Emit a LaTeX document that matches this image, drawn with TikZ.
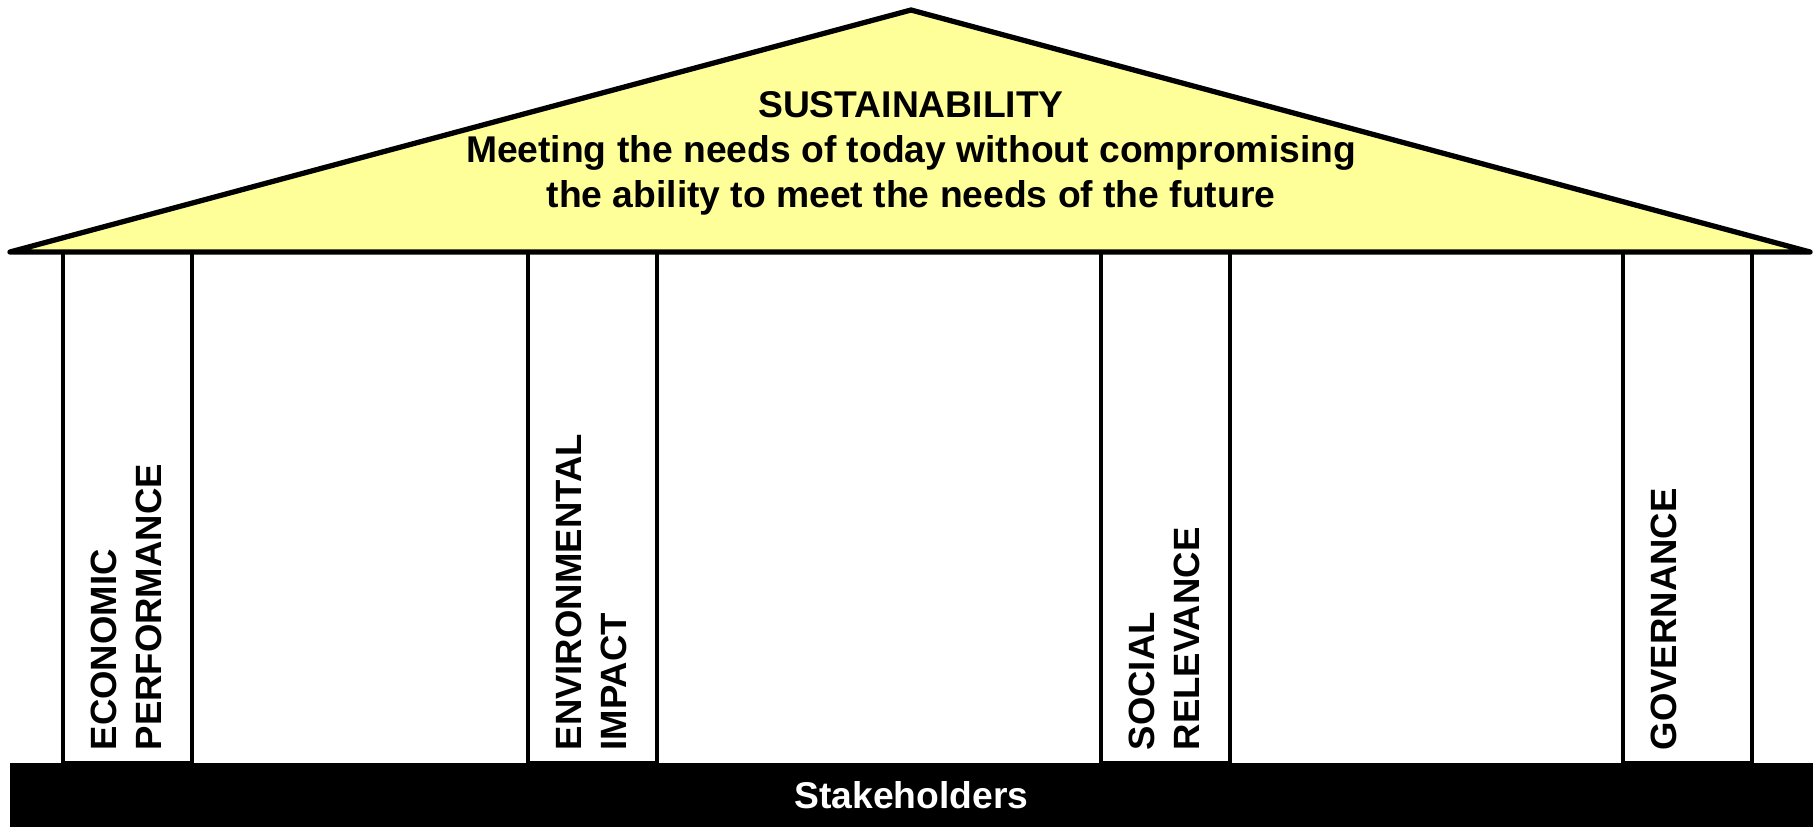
\documentclass[tikz,border=0pt]{standalone}
\usepackage{fontspec}
\setmainfont{Liberation Sans}
\usepackage{tikz}
\usetikzlibrary{positioning}
\definecolor{roofyellow}{RGB}{255,255,153}

\begin{document}
\begin{tikzpicture}[
  pillar/.style={draw, line width=1.15pt, minimum width=1.29cm, minimum height=5.11cm, inner sep=0pt, outer sep=0pt, anchor=south west},
  pillarlabel/.style={rotate=90, anchor=north west, align=left, inner sep=0pt, font=\bfseries\fontsize{10.4}{12.8}\selectfont},
  roof/.style={draw, fill=roofyellow, line width=1.5pt, line join=round}
]
\useasboundingbox (0,0) rectangle (18.13,8.27);
% pillars
\node[pillar] (econ) at (0.63,0.64) {};
\node[pillar] (env) at (5.28,0.64) {};
\node[pillar] (soc) at (11.01,0.64) {};
\node[pillar] (gov) at (16.23,0.64) {};
\node[pillarlabel] (econtxt) at ([xshift=0.27cm,yshift=0.12cm]econ.south west) {ECONOMIC\\PERFORMANCE};
\node[pillarlabel] (envtxt) at ([xshift=0.27cm,yshift=0.12cm]env.south west) {ENVIRONMENTAL\\IMPACT};
\node[pillarlabel] (soctxt) at ([xshift=0.27cm,yshift=0.12cm]soc.south west) {SOCIAL\\RELEVANCE};
\node[pillarlabel] (govtxt) at ([xshift=0.27cm,yshift=0.12cm]gov.south west) {GOVERNANCE};
% roof
\draw[roof] (0.10,5.75) coordinate (eaveL) -- (9.11,8.17) coordinate (ridge) -- (18.10,5.75) coordinate (eaveR) -- cycle;
\node[align=center, font=\bfseries\fontsize{10.6}{12.8}\selectfont] (title) at (9.11,6.74)
  {SUSTAINABILITY\\Meeting the needs of today without compromising\\the ability to meet the needs of the future};
% base
\node[fill=black, text=white, minimum width=18.03cm, minimum height=0.64cm, inner sep=0pt, font=\bfseries\fontsize{10.6}{12.8}\selectfont] (stake) at (9.115,0.32) {Stakeholders};
\end{tikzpicture}
\end{document}
